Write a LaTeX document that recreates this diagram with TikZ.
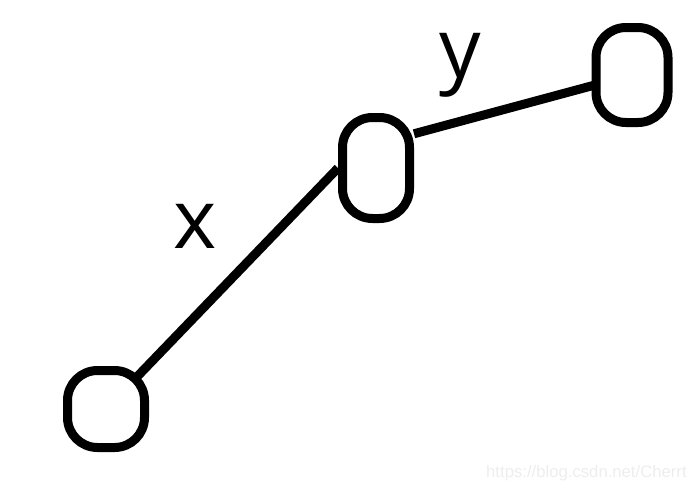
\documentclass[tikz,border=0pt]{standalone}
\usepackage{fontspec}
\setmainfont{Open Sans}
\newfontfamily\markfont{Liberation Sans}
\usepackage{tikz}
\usetikzlibrary{positioning, backgrounds}

\begin{document}
\begin{tikzpicture}[
    pod/.style={rectangle, draw, fill=white, line width=0.18cm, rounded corners=0.6cm, inner sep=0pt},
    link/.style={line width=0.18cm},
    lbl/.style={font=\fontsize{47}{50}\selectfont, anchor=base, inner sep=0pt}
]
\useasboundingbox (0,0) rectangle (13.94,9.8);

% Nodes
\node[pod, minimum width=1.54cm, minimum height=1.54cm] (low) at (2.12,1.62) {};
\node[pod, minimum width=1.34cm, minimum height=2.02cm] (mid) at (7.52,6.44) {};
\node[pod, minimum width=1.44cm, minimum height=1.9cm] (high) at (12.64,8.3) {};

% Links
\begin{scope}[on background layer]
\draw[link] (low.center) -- (mid.west);
\draw[link] (mid.42) -- (high.center);
\end{scope}

% Labels
\node[lbl] (lx) at (3.9,4.84) {x};
\node[lbl] (ly) at (9.2,8.26) {y};

% Watermark
\node[anchor=base east, inner sep=0pt, text=black!7, font=\markfont\fontsize{9.5}{11}\selectfont] (mark) at (13.74,0.26) {https://blog.csdn.net/Cherrt};

\end{tikzpicture}
\end{document}
